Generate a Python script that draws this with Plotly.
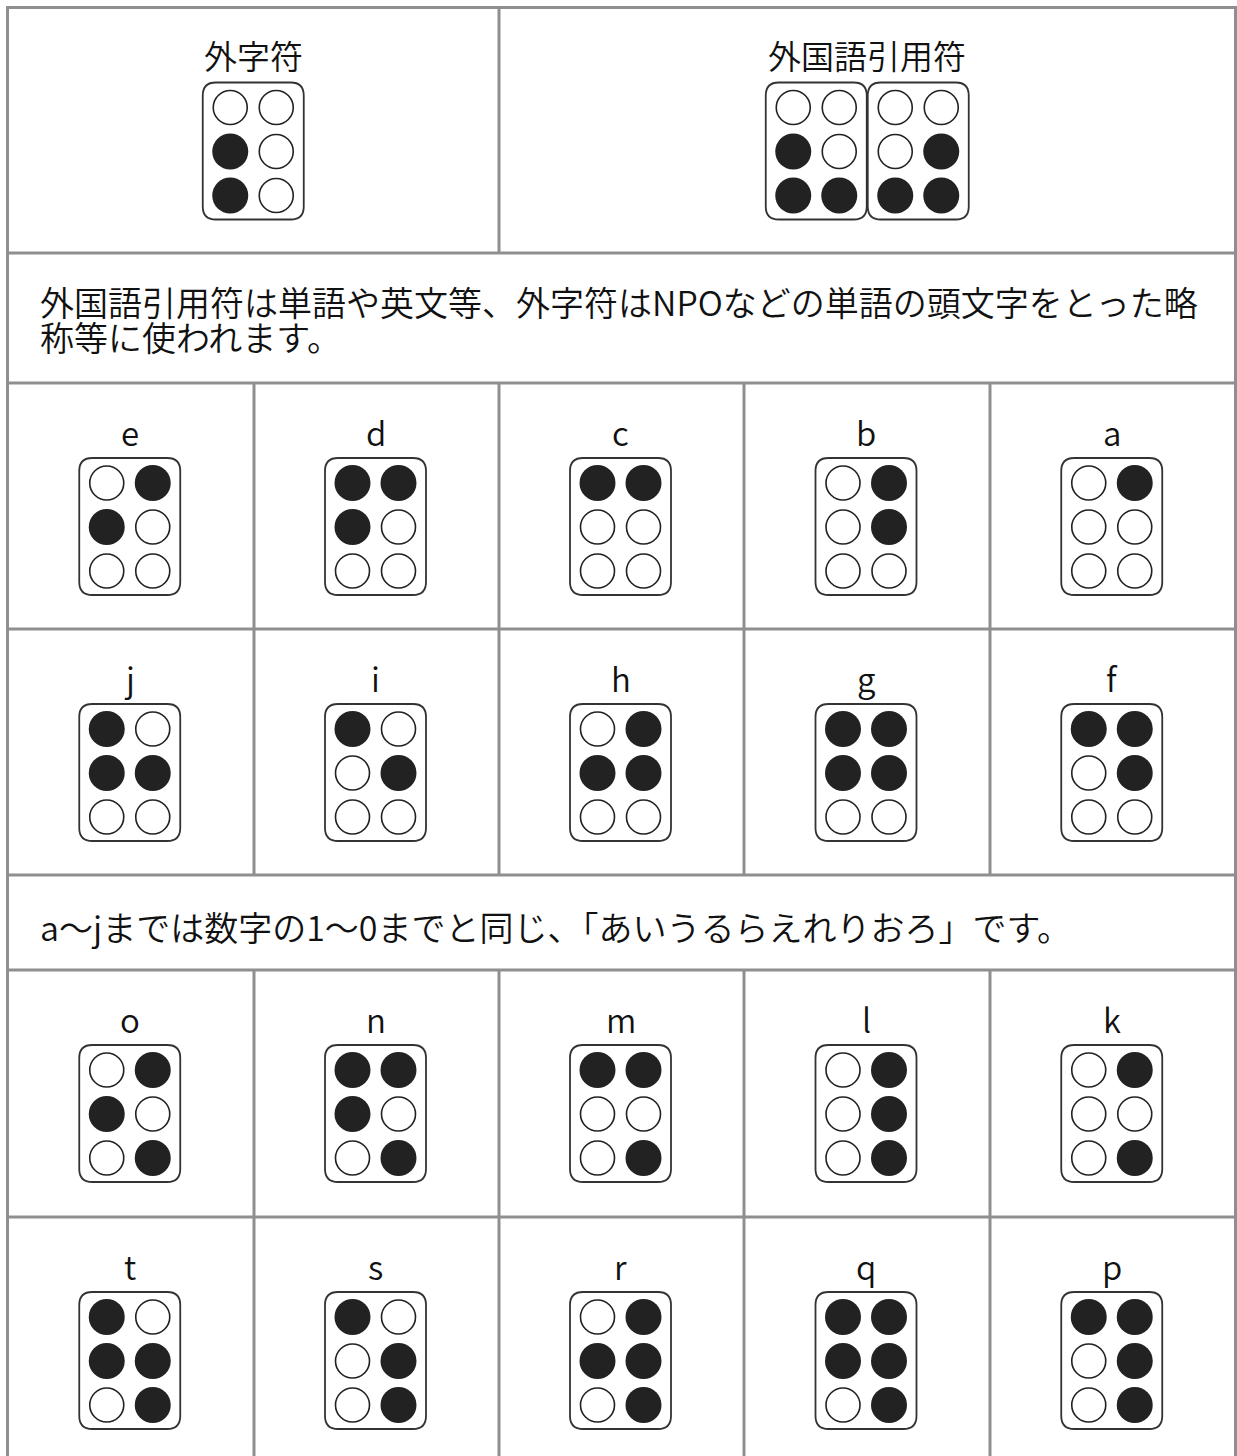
import plotly.graph_objects as go

W, H = 1237, 1456

# ---------------- data ----------------
top_titles = ["外字符", "外国語引用符"]
# dot order: [top-left, top-right, mid-left, mid-right, bottom-left, bottom-right]
top_cells = [
    [[0, 0, 1, 0, 1, 0]],
    [[0, 0, 1, 0, 1, 1], [0, 0, 0, 1, 1, 1]],
]
note_top = ["外国語引用符は単語や英文等、外字符はNPOなどの単語の頭文字をとった略",
            "称等に使われます。"]
note_mid = "a〜jまでは数字の1〜0までと同じ、「あいうるらえれりおろ」です。"

letter_rows = [
    ["e", "d", "c", "b", "a"],
    ["j", "i", "h", "g", "f"],
    ["o", "n", "m", "l", "k"],
    ["t", "s", "r", "q", "p"],
]
patterns = {
    "a": [0, 1, 0, 0, 0, 0],
    "b": [0, 1, 0, 1, 0, 0],
    "c": [1, 1, 0, 0, 0, 0],
    "d": [1, 1, 1, 0, 0, 0],
    "e": [0, 1, 1, 0, 0, 0],
    "f": [1, 1, 0, 1, 0, 0],
    "g": [1, 1, 1, 1, 0, 0],
    "h": [0, 1, 1, 1, 0, 0],
    "i": [1, 0, 0, 1, 0, 0],
    "j": [1, 0, 1, 1, 0, 0],
    "k": [0, 1, 0, 0, 0, 1],
    "l": [0, 1, 0, 1, 0, 1],
    "m": [1, 1, 0, 0, 0, 1],
    "n": [1, 1, 1, 0, 0, 1],
    "o": [0, 1, 1, 0, 0, 1],
    "p": [1, 1, 0, 1, 0, 1],
    "q": [1, 1, 1, 1, 0, 1],
    "r": [0, 1, 1, 1, 0, 1],
    "s": [1, 0, 0, 1, 0, 1],
    "t": [1, 0, 1, 1, 0, 1],
}

# ---------------- layout geometry ----------------
col_edges = [7.5, 254, 499, 744, 990, 1235.5]
top_split = 499
row_edges = [7.5, 253, 383, 629, 875, 970, 1217, 1470]
row_kinds = ["top", "note", "cells", "cells", "note", "cells", "cells"]

FONT = "Noto Sans CJK JP"
INK = "#222222"
GRID = "#8f8f8f"

shapes = []
annotations = []
fx, fy, ex, ey = [], [], [], []


def rounded_rect(x0, y0, x1, y1, r):
    return (f"M {x0+r},{y0} L {x1-r},{y0} Q {x1},{y0} {x1},{y0+r} "
            f"L {x1},{y1-r} Q {x1},{y1} {x1-r},{y1} L {x0+r},{y1} "
            f"Q {x0},{y1} {x0},{y1-r} L {x0},{y0+r} Q {x0},{y0} {x0+r},{y0} Z")


def braille(cx, top, pat):
    bw, bh = 101, 137
    shapes.append(dict(type="path", path=rounded_rect(cx - bw / 2, top, cx + bw / 2, top + bh, 13),
                       line=dict(color="#333333", width=1.8), fillcolor="white", layer="below"))
    for i, v in enumerate(pat):
        c = i % 2
        r = i // 2
        x = cx - 23 + 46 * c
        y = top + 25 + 44 * r
        if v:
            fx.append(x); fy.append(y)
        else:
            ex.append(x); ey.append(y)


def label(x, y, text, anchor="center", size=33):
    annotations.append(dict(x=x, y=y, text=text, showarrow=False, xanchor=anchor, yanchor="middle",
                            font=dict(family=FONT, size=size, color="#111111", weight=350)))


letter_iter = iter(letter_rows)
for ri, kind in enumerate(row_kinds):
    top = row_edges[ri]
    if kind == "top":
        halves = [(col_edges[0], top_split), (top_split, col_edges[-1])]
        for (a, b), title, cells in zip(halves, top_titles, top_cells):
            cx = (a + b) / 2
            label(cx, top + 47, title)
            n = len(cells)
            for k, pat in enumerate(cells):
                braille(cx + (k - (n - 1) / 2) * 102, top + 75, pat)
    elif kind == "cells":
        letters = next(letter_iter)
        for ci, ch in enumerate(letters):
            cx = (col_edges[ci] + col_edges[ci + 1]) / 2 - 1
            label(cx, top + 49, ch)
            braille(cx, top + 75, patterns[ch])

# notes
label(38, 301, note_top[0], "left", 34)
label(38, 336, note_top[1], "left", 34)
label(38, 926, note_mid, "left", 34)

# grid lines
for y in row_edges[:-1]:
    shapes.append(dict(type="line", x0=col_edges[0] - 1.5, x1=col_edges[-1] + 1.5, y0=y, y1=y,
                       line=dict(color=GRID, width=3)))
for x in (col_edges[0], col_edges[-1]):
    shapes.append(dict(type="line", x0=x, x1=x, y0=row_edges[0], y1=H + 20,
                       line=dict(color=GRID, width=3)))
shapes.append(dict(type="line", x0=top_split, x1=top_split, y0=row_edges[0], y1=row_edges[1],
                   line=dict(color=GRID, width=3)))
for ri, kind in enumerate(row_kinds):
    if kind == "cells":
        for x in col_edges[1:-1]:
            shapes.append(dict(type="line", x0=x, x1=x, y0=row_edges[ri], y1=row_edges[ri + 1],
                               line=dict(color=GRID, width=3)))

fig = go.Figure()
fig.add_trace(go.Scatter(x=ex, y=ey, mode="markers", hoverinfo="skip",
                         marker=dict(symbol="circle", size=34, color="white",
                                     line=dict(color=INK, width=1.6))))
fig.add_trace(go.Scatter(x=fx, y=fy, mode="markers", hoverinfo="skip",
                         marker=dict(symbol="circle", size=36, color=INK,
                                     line=dict(color=INK, width=0))))

fig.update_layout(
    width=W, height=H, autosize=False,
    margin=dict(l=0, r=0, t=0, b=0, pad=0),
    paper_bgcolor="white", plot_bgcolor="white",
    showlegend=False,
    xaxis=dict(range=[0, W], visible=False, fixedrange=True),
    yaxis=dict(range=[H, 0], visible=False, fixedrange=True),
    shapes=shapes, annotations=annotations,
)

fig.write_html("out.html", config={"displayModeBar": False, "staticPlot": True},
               post_script="document.body.style.margin='0';document.body.style.overflow='hidden';")
